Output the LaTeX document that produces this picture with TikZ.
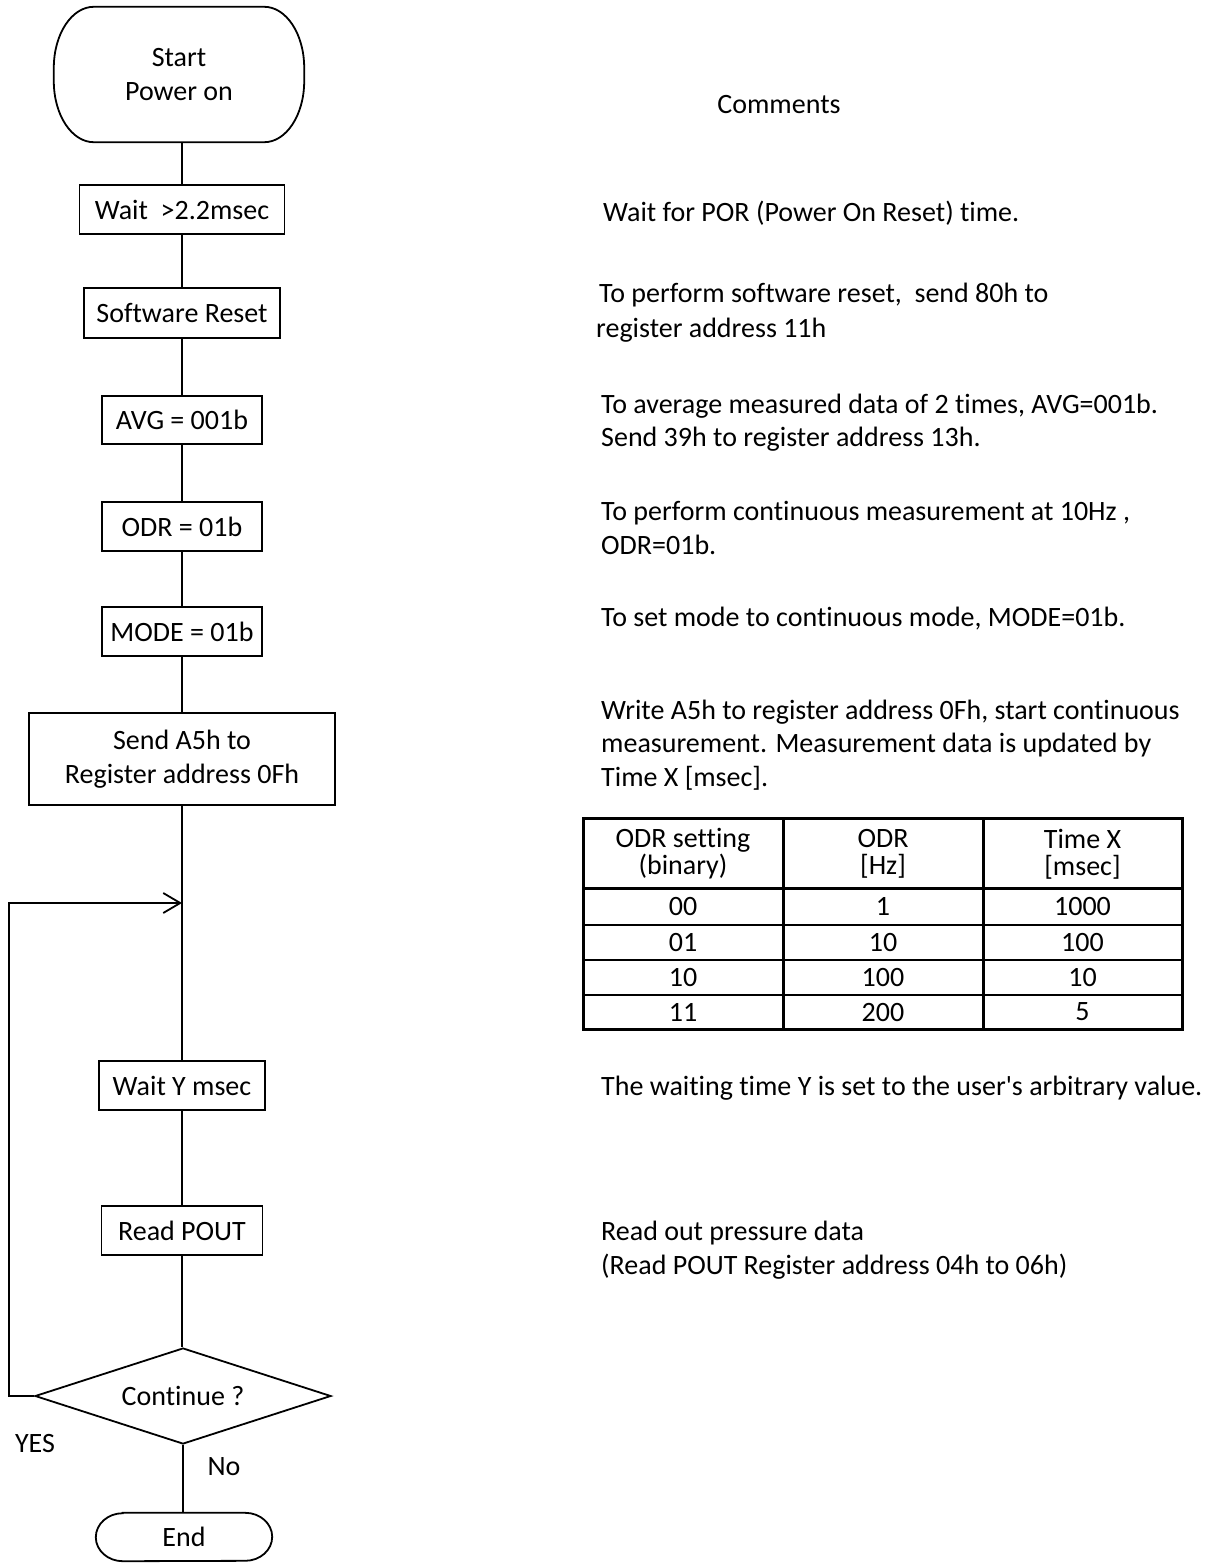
\documentclass[tikz,border=0pt]{standalone}
\usepackage{fontspec}
\setmainfont{Carlito}[Ligatures=NoCommon]
\usetikzlibrary{shapes.geometric,arrows.meta,calc}
\begin{document}
\begin{tikzpicture}[x=1pt,y=-1pt,
  every node/.style={font=\fontsize{28}{34}\selectfont, text=black},
  box/.style={draw, line width=1.8pt, rectangle, inner sep=0pt, align=center},
  flow/.style={line width=1.8pt},
  cmt/.style={anchor=base west, inner sep=0pt},
  tcell/.style={inner sep=0pt, align=center, font=\fontsize{28}{27}\selectfont},
  tthick/.style={line width=3pt},
  tthin/.style={line width=1.5pt}]
\useasboundingbox (0,0) rectangle (1213,1566);

% ---------- flowchart nodes ----------
\node[inner sep=0pt, minimum width=250pt, minimum height=135pt, align=center] (start) at (179,74.5) {Start\\Power on};
\draw[flow] ($(start.north west)+(40,0)$) -- ($(start.north east)+(-40,0)$)
  arc[start angle=-90, end angle=0, x radius=40, y radius=61]
  -- ($(start.south east)+(0,-61)$)
  arc[start angle=0, end angle=90, x radius=40, y radius=61]
  -- ($(start.south west)+(40,0)$)
  arc[start angle=90, end angle=180, x radius=40, y radius=61]
  -- ($(start.north west)+(0,61)$)
  arc[start angle=180, end angle=270, x radius=40, y radius=61] -- cycle;

\node[box, minimum width=205pt, minimum height=49pt] (wait) at (182,209.5) {Wait\ \ >2.2msec};
\node[box, minimum width=196pt, minimum height=50pt] (swr) at (182,313) {Software Reset};
\node[box, minimum width=160pt, minimum height=48pt] (avg) at (182,420) {AVG = 001b};
\node[box, minimum width=160pt, minimum height=49pt] (odr) at (182,526.5) {ODR = 01b};
\node[box, minimum width=160pt, minimum height=49pt] (mode) at (182,631.5) {MODE = 01b};
\node[box, minimum width=306pt, minimum height=92pt] (send) at (182,759) {Send A5h to\\Register address 0Fh};
\node[box, minimum width=166pt, minimum height=49pt] (waity) at (182,1085.5) {Wait Y msec};
\node[box, minimum width=161pt, minimum height=49pt] (readp) at (182,1230.5) {Read POUT};
\node[draw, diamond, line width=1.8pt, minimum width=296pt, minimum height=96pt, inner sep=0pt, shape aspect=3] (d) at (183,1396) {Continue ?};

\node[inner sep=0pt, minimum width=176pt, minimum height=48pt] (end) at (184,1537) {End};
\draw[flow] ($(end.north west)+(27,0)$) -- ($(end.north east)+(-27,0)$)
  arc[start angle=-90, end angle=90, x radius=27, y radius=24]
  -- ($(end.south west)+(27,0)$)
  arc[start angle=90, end angle=270, x radius=27, y radius=24] -- cycle;

\node (yes) at (35,1443) {YES};
\node (no) at (224,1467) {No};

% ---------- connectors ----------
\draw[flow] (start.south -| wait.north) -- (wait.north);
\draw[flow] (wait) -- (swr);
\draw[flow] (swr) -- (avg);
\draw[flow] (avg) -- (odr);
\draw[flow] (odr) -- (mode);
\draw[flow] (mode) -- (send);
\draw[flow] (send) -- (waity);
\draw[flow] (waity) -- (readp);
\draw[flow] (readp.south) -- (readp.south |- d.north);
\draw[flow] (d.south) -- (d.south |- end.north);
\coordinate (j) at (182,903);
\coordinate (lc) at (9,903);
\draw[flow, -{Straight Barb[length=17pt, width=20pt]}] (d.west) -| (lc) -- (j);

% ---------- comments ----------
\node[anchor=base, inner sep=0pt] (c0) at (779,113) {Comments};
\node[cmt] (c1) at (603,221) {Wait for POR (Power On Reset) time.};
\node[cmt] (c2a) at (599,302) {To perform software reset,\ \ send 80h to};
\node[cmt] (c2b) at (596,337) {register address 11h};
\node[cmt] (c3a) at (601,413) {To average measured data of 2 times, AVG=001b.};
\node[cmt] (c3b) at (601,446) {Send 39h to register address 13h.};
\node[cmt] (c4a) at (601,520) {To perform continuous measurement at 10Hz ,};
\node[cmt] (c4b) at (601,554) {ODR=01b.};
\node[cmt] (c5) at (601,626) {To set mode to continuous mode, MODE=01b.};
\node[cmt] (c6a) at (601,719) {Write A5h to register address 0Fh, start continuous};
\node[cmt] (c6b) at (601,752) {measurement. Measurement data is updated by};
\node[cmt] (c6c) at (601,786) {Time X [msec].};
\node[cmt] (c7) at (601,1095) {The waiting time Y is set to the user\textquotesingle s arbitrary value.};
\node[cmt] (c8a) at (601,1240) {Read out pressure data};
\node[cmt] (c8b) at (601,1274) {(Read POUT Register address 04h to 06h)};

% ---------- table ----------
\draw[tthin] (583,925) -- (1182,925);
\draw[tthin] (583,960) -- (1182,960);
\draw[tthin] (583,995) -- (1182,995);
\draw[tthick] (583,888) -- (1182,888);
\draw[tthick] (783,818) -- (783,1029);
\draw[tthick] (983,818) -- (983,1029);
\draw[tthick] (583,818) rectangle (1182,1029);

\node[tcell] (h1) at (683,854) {ODR setting\\(binary)};
\node[tcell] (h2) at (883,854) {ODR\\{[Hz]}};
\node[tcell] (h3) at (1082.5,854) {Time X\\{[msec]}};
\node[tcell] (r11) at (683,906.5) {00};
\node[tcell] (r12) at (883,906.5) {1};
\node[tcell] (r13) at (1082.5,906.5) {1000};
\node[tcell] (r21) at (683,942.5) {01};
\node[tcell] (r22) at (883,942.5) {10};
\node[tcell] (r23) at (1082.5,942.5) {100};
\node[tcell] (r31) at (683,977.5) {10};
\node[tcell] (r32) at (883,977.5) {100};
\node[tcell] (r33) at (1082.5,977.5) {10};
\node[tcell] (r41) at (683,1012) {11};
\node[tcell] (r42) at (883,1012) {200};
\node[tcell] (r43) at (1082.5,1012) {5};
\end{tikzpicture}
\end{document}
